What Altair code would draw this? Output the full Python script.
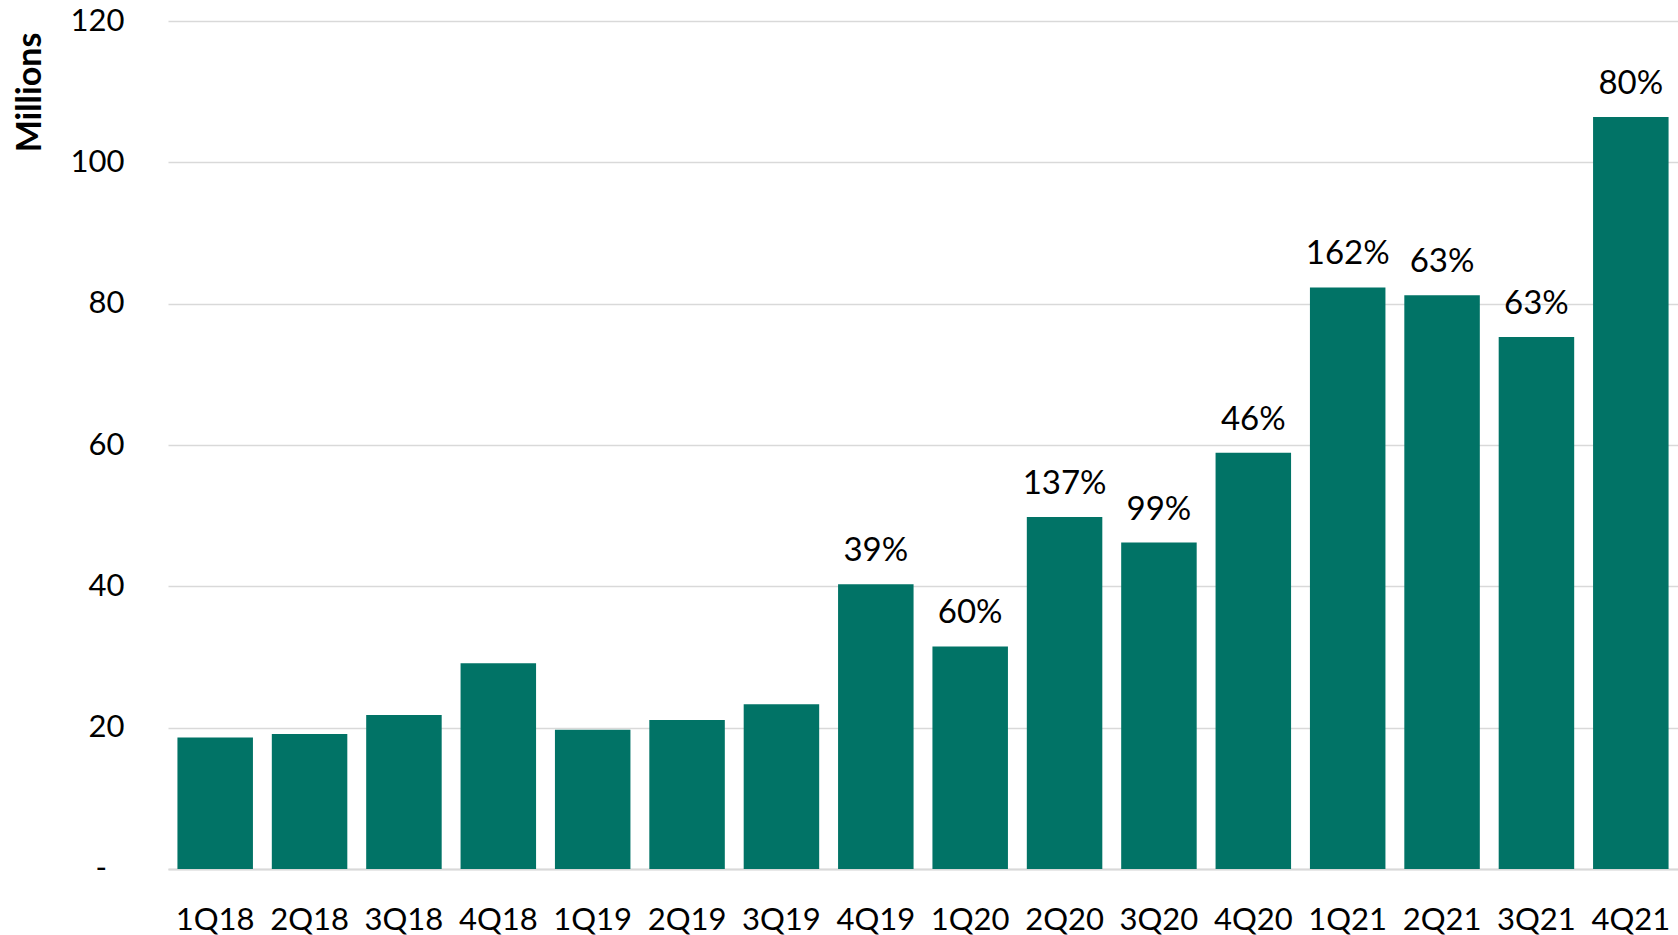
import altair as alt
import pandas as pd

quarters = ["1Q18", "2Q18", "3Q18", "4Q18", "1Q19", "2Q19", "3Q19", "4Q19",
            "1Q20", "2Q20", "3Q20", "4Q20", "1Q21", "2Q21", "3Q21", "4Q21"]
values = [18.6, 19.1, 21.8, 29.1, 19.7, 21.1, 23.3, 40.3,
          31.5, 49.8, 46.2, 58.9, 82.3, 81.2, 75.3, 106.4]
growth = ["", "", "", "", "", "", "", "39%",
          "60%", "137%", "99%", "46%", "162%", "63%", "63%", "80%"]
y_ticks = [0, 20, 40, 60, 80, 100, 120]
zero_tick = pd.DataFrame({"v": [0], "t": ["-"]})

df = pd.DataFrame({"q": quarters, "v": values, "g": growth})

FONT = "Lato"

x = alt.X("q:N", sort=quarters, title=None,
          scale=alt.Scale(paddingInner=0.2, paddingOuter=0.1),
          axis=alt.Axis(labelAngle=0, labelFontSize=31, labelFont=FONT,
                        labelColor="#000000", labelPadding=36, ticks=False,
                        domain=True, domainColor="#d9d9d9", domainWidth=2,
                        grid=False))
y = alt.Y("v:Q", scale=alt.Scale(domain=[0, 120], nice=False),
          axis=alt.Axis(values=y_ticks, title="Millions", titleFont=FONT,
                        titleFontSize=34, titleFontWeight="bold",
                        titleColor="#000000", titleAngle=-90,
                        titleX=-138, titleY=71, titleAlign="center",
                        titleBaseline="middle",
                        labelFontSize=31, labelFont=FONT, labelColor="#000000",
                        labelPadding=44, ticks=False, domain=False,
                        gridColor="#d9d9d9", gridWidth=1.5,
                        labelExpr="datum.value == 0 ? '' : datum.label"))

bars = alt.Chart(df).mark_bar(color="#017366").encode(x=x, y=y)
labels = alt.Chart(df).mark_text(font=FONT, fontSize=33, color="#000000",
                                 baseline="alphabetic", dy=-23).encode(
    x=alt.X("q:N", sort=quarters), y="v:Q", text="g:N")
zero_lbl = alt.Chart(zero_tick).mark_text(font=FONT, fontSize=31, color="#000000",
                                          align="right", baseline="middle").encode(
    x=alt.value(-61), y="v:Q", text="t:N")

chart = (bars + labels + zero_lbl).properties(
    width=1510, height=848,
    background="white",
    autosize=alt.AutoSizeParams(type="none"),
    padding={"left": 168, "top": 21, "right": 0, "bottom": 66},
).configure_view(strokeWidth=0, stroke="transparent")

chart.save("out.html", embed_options={"renderer": "svg", "actions": False})
